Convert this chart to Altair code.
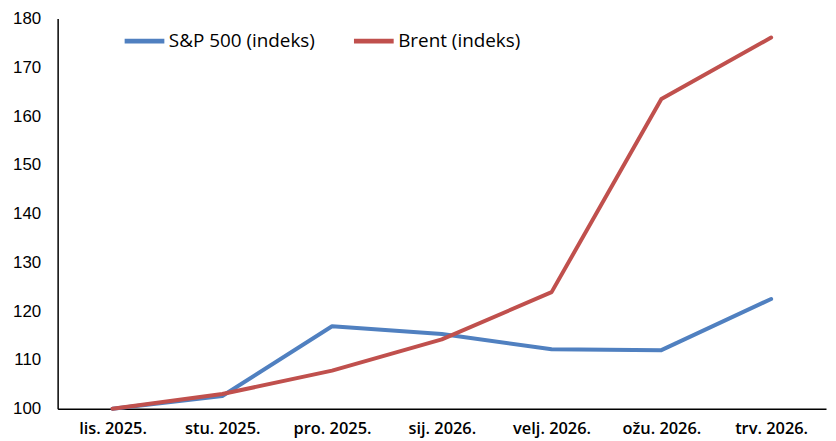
import altair as alt
import pandas as pd

months = ["lis. 2025.", "stu. 2025.", "pro. 2025.", "sij. 2026.", "velj. 2026.", "ožu. 2026.", "trv. 2026."]
sp500 = [100.0, 102.6, 116.9, 115.3, 112.2, 112.0, 122.5]
brent = [100.0, 103.0, 107.8, 114.2, 123.9, 163.5, 176.1]
series_names = ["S&P 500 (indeks)", "Brent (indeks)"]
colors = ["#5080C0", "#C0504D"]

rows = []
for i, m in enumerate(months):
    rows.append({"month": m, "series": series_names[0], "value": sp500[i], "order": i})
    rows.append({"month": m, "series": series_names[1], "value": brent[i], "order": i})
df = pd.DataFrame(rows)

font = "Open Sans"

chart = alt.Chart(df).mark_line(strokeWidth=4, strokeCap="round", strokeJoin="round").encode(
    x=alt.X("month:N", sort=months, title=None,
            scale=alt.Scale(type="point", padding=0.5),
            axis=alt.Axis(labelAngle=0, ticks=False, grid=False, domainColor="black",
                          domainWidth=1.5, labelFont=font, labelFontSize=16.5, labelFontWeight=600,
                          labelColor="black", labelPadding=12)),
    y=alt.Y("value:Q", title=None,
            scale=alt.Scale(domain=[100, 180], nice=False, zero=False),
            axis=alt.Axis(values=list(range(100, 181, 10)), ticks=False, grid=False,
                          domainColor="black", domainWidth=1.5, labelFont="Liberation Sans",
                          labelFontSize=17, labelColor="black", labelPadding=17)),
    color=alt.Color("series:N", sort=series_names,
                    scale=alt.Scale(domain=series_names, range=colors),
                    legend=alt.Legend(title=None, orient="none", direction="horizontal",
                                      legendX=65, legendY=0, symbolType="stroke",
                                      symbolSize=1600, symbolStrokeWidth=5,
                                      labelFont=font, labelFontSize=19, labelFontWeight=500,
                                      labelColor="black", labelOffset=2, columnPadding=28,
                                      labelLimit=300)),
    order="order:Q",
).properties(
    width=774, height=393,
    autosize=alt.AutoSizeParams(type="none"),
    padding={"left": 50, "top": 9, "right": 2, "bottom": 40},
).configure_view(stroke=None)

chart.save("out.html", embed_options={"renderer": "svg", "actions": False})
